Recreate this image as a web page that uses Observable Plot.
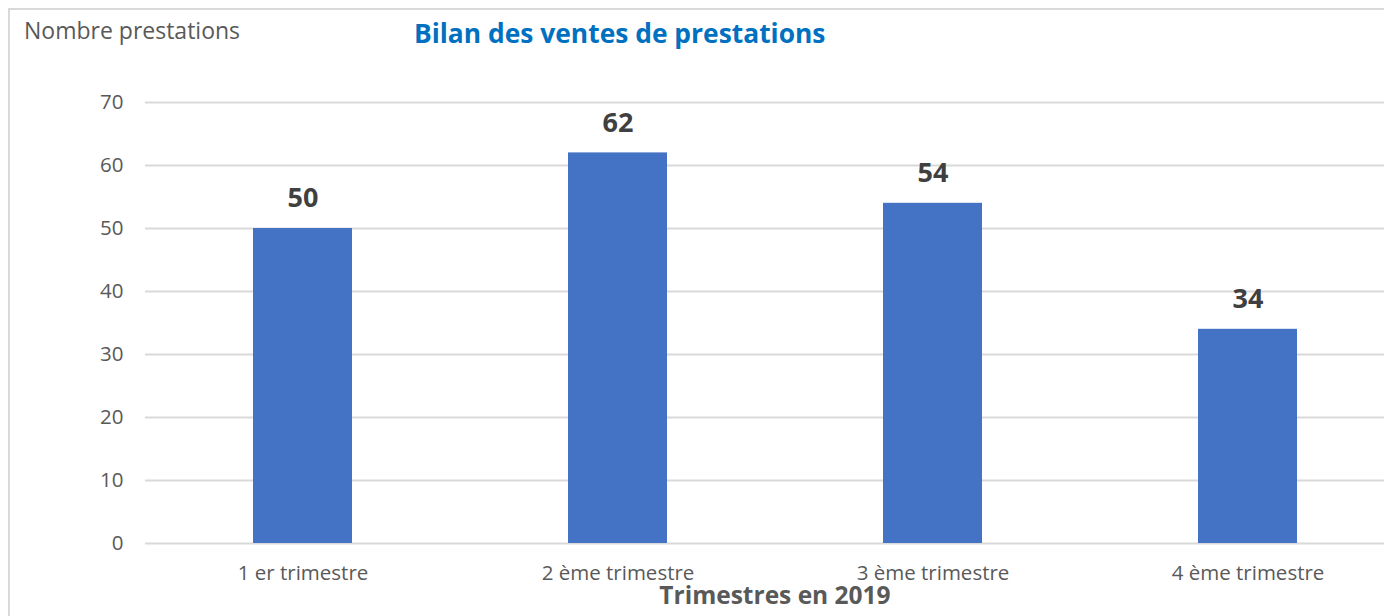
<!DOCTYPE html>
<html>
<head>
<meta charset="utf-8">
<script src="https://cdn.jsdelivr.net/npm/d3@7"></script>
<script src="https://cdn.jsdelivr.net/npm/@observablehq/plot@0.6"></script>
<style>
  html, body { margin: 0; padding: 0; background: #fff; overflow: hidden; }
  #wrap { position: relative; width: 1384px; height: 616px; overflow: hidden; font-family: "Open Sans", sans-serif; }
  #frame { position: absolute; left: 8px; top: 8px; width: 1400px; height: 640px; border: 2px solid #d9d9d9; box-sizing: border-box; }
  #chart { position: absolute; left: 0; top: 0; }
  #ylabel { position: absolute; left: 24px; top: 14px; font-size: 23px; color: #595959; white-space: nowrap; }
  #title { position: absolute; left: 414px; top: 15px; font-size: 26.4px; font-weight: bold; color: #0070c0; white-space: nowrap; }
  #xlabel { position: absolute; left: 775px; top: 583px; line-height: 1; transform: translateX(-50%); font-size: 24.5px; font-weight: bold; color: #595959; white-space: nowrap; }
</style>
</head>
<body>
<div id="wrap">
  <div id="frame"></div>
  <div id="chart"></div>
  <div id="ylabel">Nombre prestations</div>
  <div id="title">Bilan des ventes de prestations</div>
  <div id="xlabel">Trimestres en 2019</div>
</div>
<script>
const categories = ["1 er trimestre", "2 ème trimestre", "3 ème trimestre", "4 ème trimestre"];
const values = [50, 62, 54, 34];
const yTicks = [0, 10, 20, 30, 40, 50, 60, 70];

const data = categories.map((c, i) => ({category: c, value: values[i]}));

const chart = Plot.plot({
  width: 1384,
  height: 616,
  marginTop: 102,
  marginBottom: 73,
  marginLeft: 145,
  marginRight: -21,
  style: {fontFamily: "Open Sans, sans-serif", background: "transparent", overflow: "visible", maxWidth: "none"},
  x: {domain: categories, paddingInner: 0.686, paddingOuter: 0.343, label: null},
  y: {domain: [0, 70], label: null},
  marks: [
    Plot.ruleY(yTicks, {stroke: "#d9d9d9", strokeWidth: 2}),
    Plot.barY(data, {x: "category", y: "value", fill: "#4472c4"}),
    Plot.text(data, {x: "category", y: "value", text: d => String(d.value), dy: -30, fontSize: 27, fontWeight: "bold", fill: "#404040"}),
    Plot.axisY({ticks: yTicks, tickSize: 0, tickPadding: 22, fontSize: 20.5, color: "#595959", label: null}),
    Plot.axisX({tickSize: 0, tickPadding: 22, fontSize: 20.5, color: "#595959", label: null})
  ]
});
document.getElementById("chart").appendChild(chart);
</script>
</body>
</html>
